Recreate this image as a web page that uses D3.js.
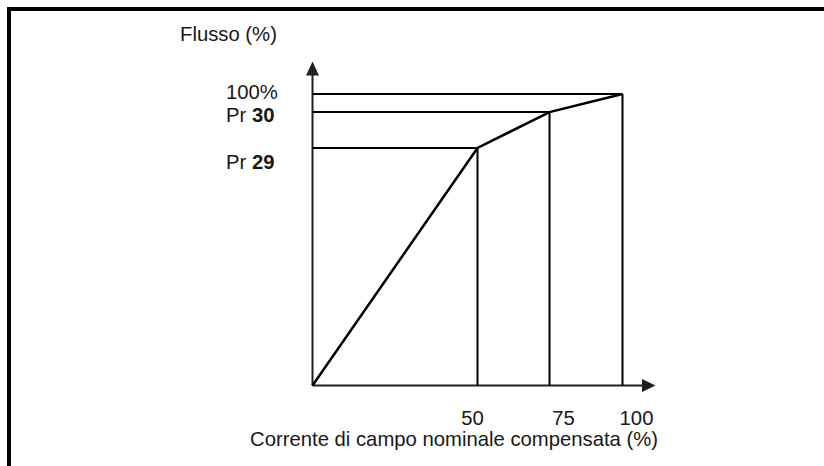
<!DOCTYPE html>
<html>
<head>
<meta charset="utf-8">
<script src="https://cdn.jsdelivr.net/npm/d3@7"></script>
<style>
  html, body { margin: 0; padding: 0; background: #fff; }
  text { font-family: "Liberation Sans", Arial, sans-serif; fill: #1a1718; }
</style>
</head>
<body>
<div id="chart"></div>
<script>
// Flux vs compensated field current (schematic, x axis not to scale)
const currentPct = [0, 50, 75, 100];     // corrente di campo (%)
const fluxPct = [0, 81.5, 93.8, 100];    // flusso (%): origin, Pr 29, Pr 30, 100%
const xTickValues = [50, 75, 100];
const xTickLabels = ["50", "75", "100"];
const yLabelValues = [100, 93.8, 81.5];
const yLabelText = [["100%", ""], ["Pr ", "30"], ["Pr ", "29"]];
const yTitle = "Flusso (%)";
const xTitle = "Corrente di campo nominale compensata (%)";

const width = 824, height = 466;
const ink = "#231f20";
const fontSize = 20.3;

const svg = d3.select("#chart")
  .append("svg")
  .attr("width", width)
  .attr("height", height);

// frame: thick rule along top and left
svg.append("path")
  .attr("d", "M9,466V9H824")
  .attr("fill", "none")
  .attr("stroke", "#000")
  .attr("stroke-width", 4);

// schematic x axis: breakpoints are drawn wider than their values
const x = d3.scaleLinear()
  .domain([0, 50, 75, 100])
  .range([312.5, 477.5, 549.5, 622.5]);

const y = d3.scaleLinear()
  .domain([0, 100])
  .range([385.5, 94]);

const points = currentPct.map((c, i) => [c, fluxPct[i]]);

// axes with arrow heads
svg.append("line")
  .attr("x1", x(0)).attr("x2", x(0))
  .attr("y1", y(0)).attr("y2", 74)
  .attr("stroke", ink).attr("stroke-width", 2);
svg.append("path")
  .attr("d", `M${x(0)},61.5L${x(0) - 6.5},75.5L${x(0) + 6.5},75.5Z`)
  .attr("fill", ink);

svg.append("line")
  .attr("x1", x(0)).attr("x2", 644)
  .attr("y1", y(0)).attr("y2", y(0))
  .attr("stroke", ink).attr("stroke-width", 2);
svg.append("path")
  .attr("d", `M655.5,${y(0)}L642,${y(0) - 6.5}L642,${y(0) + 6.5}Z`)
  .attr("fill", ink);

// guide lines from each breakpoint to both axes
const bp = points.slice(1);
svg.selectAll("line.hguide")
  .data(bp)
  .join("line")
  .attr("class", "hguide")
  .attr("x1", x(0)).attr("x2", d => x(d[0]))
  .attr("y1", d => y(d[1])).attr("y2", d => y(d[1]))
  .attr("stroke", "#000").attr("stroke-width", 2);

svg.selectAll("line.vguide")
  .data(bp)
  .join("line")
  .attr("class", "vguide")
  .attr("x1", d => x(d[0])).attr("x2", d => x(d[0]))
  .attr("y1", d => y(d[1])).attr("y2", y(0))
  .attr("stroke", "#000").attr("stroke-width", 2);

// flux curve
svg.append("path")
  .datum(points)
  .attr("d", d3.line().x(d => x(d[0])).y(d => y(d[1])))
  .attr("fill", "none")
  .attr("stroke", "#000")
  .attr("stroke-width", 2.5)
  .attr("stroke-linejoin", "miter");

// x tick labels (placed loosely beside the guides, as in the original)
const xNudge = [-5, 14, 14];
svg.selectAll("text.xtick")
  .data(xTickValues)
  .join("text")
  .attr("class", "xtick")
  .attr("x", (d, i) => x(d) + xNudge[i])
  .attr("y", 425)
  .attr("text-anchor", "middle")
  .attr("font-size", fontSize)
  .text((d, i) => xTickLabels[i]);

// y labels
const yNudge = [4.5, 10, 21];
const yl = svg.selectAll("text.ylab")
  .data(yLabelValues)
  .join("text")
  .attr("class", "ylab")
  .attr("x", 226)
  .attr("y", (d, i) => y(d) + yNudge[i])
  .attr("font-size", fontSize);
yl.append("tspan").text((d, i) => yLabelText[i][0]);
yl.append("tspan").attr("font-weight", "bold").text((d, i) => yLabelText[i][1]);

// axis titles
svg.append("text")
  .attr("x", 180)
  .attr("y", 40.5)
  .attr("font-size", fontSize)
  .text(yTitle);

svg.append("text")
  .attr("x", 250)
  .attr("y", 445.5)
  .attr("font-size", fontSize)
  .text(xTitle);
</script>
</body>
</html>
